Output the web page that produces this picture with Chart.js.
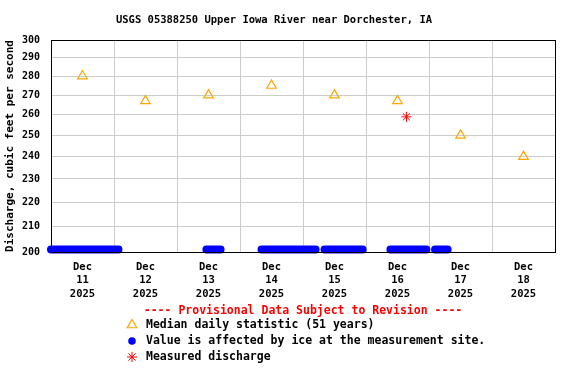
<!DOCTYPE html>
<html>
<head>
<meta charset="utf-8">
<script src="https://cdn.jsdelivr.net/npm/chart.js@4/dist/chart.umd.min.js"></script>
<style>
  html, body { margin: 0; padding: 0; background: #fff; }
  canvas { display: block; }
</style>
</head>
<body>
<canvas id="chart" width="576" height="384"></canvas>
<script>
const chartTitle = "USGS 05388250 Upper Iowa River near Dorchester, IA"
const provisionalNote = "---- Provisional Data Subject to Revision ----"

// one label per day, x axis runs in hours from Dec 11 00:00
const dayLabels = [
  ["Dec", "11", "2025"], ["Dec", "12", "2025"], ["Dec", "13", "2025"], ["Dec", "14", "2025"],
  ["Dec", "15", "2025"], ["Dec", "16", "2025"], ["Dec", "17", "2025"], ["Dec", "18", "2025"]
]
const medianValues = [280, 267, 270, 275, 270, 267, 250, 240]

// periods where the value is ice affected (hours from Dec 11 00:00)
const iceStartHours = [0, 59.2, 80.2, 104.2, 129.3, 146.3]
const iceEndHours = [25.7, 64.6, 100.8, 118.7, 143.0, 151.1]
const iceLevel = 201

const measuredHours = [135.4]
const measuredValues = [259]

const yTicks = [200, 210, 220, 230, 240, 250, 260, 270, 280, 290, 300]

const FONT = "'DejaVu Sans Mono', monospace"

const medianPoints = medianValues.map((v, i) => ({ x: i * 24 + 12, y: v }))
const icePoints = []
iceStartHours.forEach((s, i) => {
  icePoints.push({ x: s, y: iceLevel })
  icePoints.push({ x: iceEndHours[i], y: iceLevel })
  icePoints.push({ x: iceEndHours[i], y: null })
})
const measuredPoints = measuredValues.map((v, i) => ({ x: measuredHours[i], y: v }))

const legendStyles = [
  { pointStyle: "triangle", radius: 5.5, borderWidth: 1.2, stroke: "#ffa500", fill: "rgba(0,0,0,0)" },
  { pointStyle: "circle", radius: 3.8, borderWidth: 0, stroke: "#0000ff", fill: "#0000ff" },
  { pointStyle: "star", radius: 5, borderWidth: 1, stroke: "#ff0000", fill: "rgba(0,0,0,0)" }
]

const usgsDecor = {
  id: "usgsDecor",
  afterDraw(chart) {
    const ctx = chart.ctx
    const area = chart.chartArea
    ctx.save()
    // plot frame
    ctx.strokeStyle = "#000"
    ctx.lineWidth = 1
    ctx.strokeRect(Math.round(area.left) + 0.5, Math.round(area.top) + 0.5,
      Math.round(area.right - area.left), Math.round(area.bottom - area.top))

    // title
    ctx.fillStyle = "#000"
    ctx.font = "bold 10.5px " + FONT
    ctx.textAlign = "center"
    ctx.textBaseline = "middle"
    ctx.fillText(chartTitle, 274, 20)

    // legend block
    ctx.font = "bold 11.5px " + FONT
    ctx.fillStyle = "#ff0000"
    ctx.fillText(provisionalNote, (area.left + area.right) / 2, 311)

    ctx.textAlign = "left"
    chart.data.datasets.forEach((ds, i) => {
      const st = legendStyles[i]
      const y = 325 + i * 16
      ctx.strokeStyle = st.stroke
      ctx.fillStyle = st.fill
      ctx.lineWidth = st.borderWidth
      Chart.helpers.drawPoint(ctx, {
        pointStyle: st.pointStyle, radius: st.radius, borderWidth: st.borderWidth, rotation: 0
      }, 132, y)
      ctx.fillStyle = "#000"
      ctx.fillText(ds.label, 146, y)
    })
    ctx.restore()
  }
}

new Chart(document.getElementById("chart"), {
  type: "scatter",
  data: {
    datasets: [
      {
        label: "Median daily statistic (51 years)",
        data: medianPoints,
        pointStyle: "triangle",
        pointRadius: 5.5,
        pointHoverRadius: 5.5,
        borderColor: "#ffa500",
        backgroundColor: "rgba(0,0,0,0)",
        borderWidth: 1.2
      },
      {
        label: "Value is affected by ice at the measurement site.",
        type: "line",
        data: icePoints,
        showLine: true,
        spanGaps: false,
        pointRadius: 0,
        borderColor: "#0000ff",
        borderWidth: 8,
        borderCapStyle: "round",
        clip: false
      },
      {
        label: "Measured discharge",
        data: measuredPoints,
        pointStyle: "star",
        pointRadius: 5,
        pointHoverRadius: 5,
        borderColor: "#ff0000",
        backgroundColor: "rgba(0,0,0,0)",
        borderWidth: 1
      }
    ]
  },
  options: {
    responsive: false,
    devicePixelRatio: 1,
    animation: false,
    events: [],
    layout: {
      padding: { top: 40, right: 21, left: 0, bottom: 0 }
    },
    scales: {
      x: {
        type: "linear",
        position: "bottom",
        min: 0,
        max: 192,
        afterBuildTicks: (axis) => {
          axis.ticks = dayLabels.concat([null]).map((_, i) => ({ value: i * 24 }))
        },
        afterFit: (axis) => { axis.height = 0 },
        ticks: { display: false },
        grid: { color: "#cccccc", drawTicks: false },
        border: { display: false }
      },
      x2: {
        type: "linear",
        position: "bottom",
        min: 0,
        max: 192,
        afterBuildTicks: (axis) => {
          axis.ticks = dayLabels.map((_, i) => ({ value: i * 24 + 12 }))
        },
        afterFit: (axis) => { axis.height = 132 },
        ticks: {
          autoSkip: false,
          maxRotation: 0,
          padding: 1,
          color: "#000",
          font: { family: FONT, size: 10.5, weight: "bold", lineHeight: 1.25 },
          callback: (value) => dayLabels[Math.round((value - 12) / 24)]
        },
        grid: { display: false },
        border: { display: false }
      },
      y: {
        type: "logarithmic",
        min: 200,
        max: 300,
        afterBuildTicks: (axis) => {
          axis.ticks = yTicks.map(v => ({ value: v }))
        },
        afterFit: (axis) => { axis.width = 51 },
        ticks: {
          padding: 11,
          color: "#000",
          font: { family: FONT, size: 10, weight: "bold" },
          callback: (value) => String(value)
        },
        grid: { color: "#cccccc", drawTicks: false },
        border: { display: false },
        title: {
          display: true,
          text: "Discharge, cubic feet per second",
          color: "#000",
          padding: { top: 4, bottom: 0 },
          font: { family: FONT, size: 11, weight: "bold" }
        }
      }
    },
    plugins: {
      legend: { display: false },
      tooltip: { enabled: false },
      title: { display: false }
    }
  },
  plugins: [usgsDecor]
})
</script>
</body>
</html>
